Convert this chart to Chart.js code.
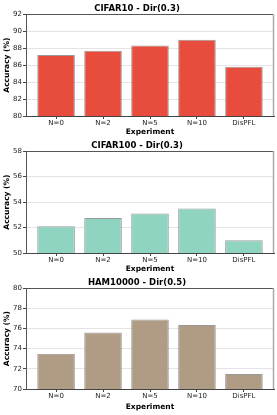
<!DOCTYPE html>
<html><head><meta charset="utf-8">
<script src="https://cdn.jsdelivr.net/npm/chart.js@4"></script>
<style>
body{margin:0;background:#fff;width:277px;height:415px;position:relative;overflow:hidden}
canvas{position:absolute;left:0}
</style>
</head><body>
<canvas id="c1" width="277" height="139" style="top:0px"></canvas>
<canvas id="c2" width="277" height="139" style="top:137px"></canvas>
<canvas id="c3" width="277" height="140" style="top:274px"></canvas>
<script>
const categories = ['N=0', 'N=2', 'N=5', 'N=10', 'DisPFL'];
const cifar10Values = [87.2, 87.7, 88.3, 89.0, 85.8];
const cifar100Values = [52.1, 52.75, 53.1, 53.5, 51.0];
const ham10000Values = [73.5, 75.6, 76.9, 76.35, 71.5];
const cifar10Ticks = [80, 82, 84, 86, 88, 90, 92];
const cifar100Ticks = [50, 52, 54, 56, 58];
const ham10000Ticks = [70, 72, 74, 76, 78, 80];
const titles = ['CIFAR10 - Dir(0.3)', 'CIFAR100 - Dir(0.3)', 'HAM10000 - Dir(0.5)'];

Chart.defaults.font.family = 'DejaVu Sans';
Chart.defaults.color = '#222';

const frame = {
  id: 'frame',
  afterDraw(chart) {
    const {ctx, chartArea: a} = chart;
    ctx.save();
    ctx.lineWidth = 1;
    ctx.strokeStyle = '#555';
    ctx.beginPath();
    ctx.moveTo(Math.round(a.left), Math.round(a.top) + 0.5);
    ctx.lineTo(Math.round(a.right), Math.round(a.top) + 0.5);
    ctx.stroke();
    ctx.strokeStyle = '#aaa';
    ctx.lineWidth = 1.5;
    ctx.beginPath();
    ctx.moveTo(Math.round(a.right) - 0.5, Math.round(a.top));
    ctx.lineTo(Math.round(a.right) - 0.5, Math.round(a.bottom));
    ctx.stroke();
    ctx.restore();
  }
};

function makeChart(id, title, values, ticks, color, plotBottom) {
  const el = document.getElementById(id);
  const H = el.height;
  new Chart(el, {
    type: 'bar',
    data: {
      datasets: [{
        data: values.map((v, i) => ({x: i, y: v})),
        backgroundColor: color,
        borderColor: '#999',
        borderWidth: 1,
        barPercentage: 0.8,
        categoryPercentage: 1.0
      }]
    },
    options: {
      responsive: false,
      animation: false,
      devicePixelRatio: 1,
      layout: {padding: {left: 0, right: 3, top: 0, bottom: 0}},
      plugins: {
        legend: {display: false},
        tooltip: {enabled: false},
        title: {
          display: true, text: title, color: '#000',
          font: {size: 8.5, weight: 'bold'},
          padding: {top: 4, bottom: 0}
        }
      },
      scales: {
        x: {
          type: 'linear',
          offset: false,
          min: -0.64, max: 4.64,
          afterBuildTicks: s => { s.ticks = categories.map((c, i) => ({value: i})); },
          afterFit: s => { s.height = H - plotBottom; },
          ticks: {
            callback: v => categories[v],
            font: {size: 7}, color: '#222', padding: 0, maxRotation: 0, autoSkip: false
          },
          grid: {offset: false, drawOnChartArea: false, drawTicks: true, tickLength: 3, color: '#444'},
          border: {display: true, color: '#444', width: 1},
          title: {display: true, text: 'Experiment', color: '#000', font: {size: 7.5, weight: 'bold'}, padding: {top: 0, bottom: 2.5}}
        },
        y: {
          min: ticks[0], max: ticks[ticks.length - 1],
          z: 1,
          afterBuildTicks: s => { s.ticks = ticks.map(v => ({value: v})); },
          afterFit: s => { s.width = 26; },
          ticks: {font: {size: 7}, color: '#222', padding: 1},
          grid: {color: 'rgba(180,180,180,0.45)', lineWidth: 0.8, tickLength: 3, tickColor: '#444', tickWidth: 1},
          border: {display: true, color: '#555', width: 1},
          title: {display: true, text: 'Accuracy (%)', color: '#000', font: {size: 7.5, weight: 'bold'}, padding: {top: 3, bottom: 0}}
        }
      }
    },
    plugins: [frame]
  });
}

makeChart('c1', titles[0], cifar10Values, cifar10Ticks, '#e74c3c', 116);
makeChart('c2', titles[1], cifar100Values, cifar100Ticks, '#8fd3c1', 116);
makeChart('c3', titles[2], ham10000Values, ham10000Ticks, '#b09c84', 115);
</script>
</body></html>
